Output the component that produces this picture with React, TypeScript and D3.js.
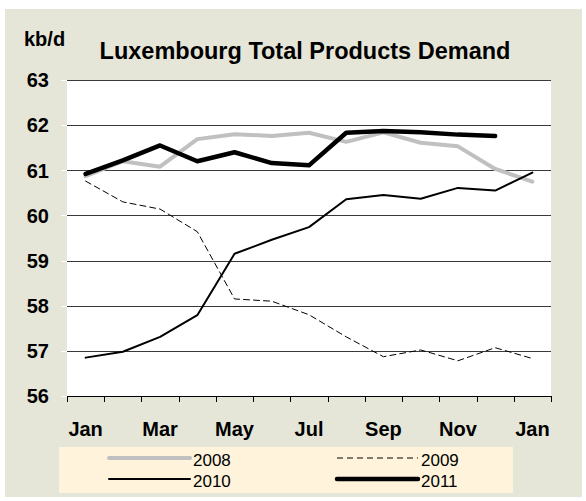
import React from 'react';
import * as d3 from 'd3';

// month labels along the x axis (13 points, Jan to Jan)
const months = ['Jan', 'Feb', 'Mar', 'Apr', 'May', 'Jun', 'Jul', 'Aug', 'Sep', 'Oct', 'Nov', 'Dec', 'Jan'];
const yTicks = [56, 57, 58, 59, 60, 61, 62, 63];

// kb/d values
const s2008 = [60.87, 61.2, 61.08, 61.69, 61.8, 61.76, 61.83, 61.63, 61.84, 61.61, 61.53, 61.03, 60.75];
const s2009 = [60.76, 60.3, 60.14, 59.64, 58.15, 58.1, 57.8, 57.31, 56.87, 57.02, 56.78, 57.07, 56.83];
const s2010 = [56.85, 56.98, 57.31, 57.79, 59.15, 59.46, 59.74, 60.36, 60.45, 60.37, 60.61, 60.55, 60.95];
const s2011 = [60.92, 61.22, 61.55, 61.2, 61.4, 61.16, 61.11, 61.83, 61.87, 61.84, 61.79, 61.76];

const FONT = '"Liberation Sans", Arial, sans-serif';

const series = [
  { name: '2008', values: s2008, stroke: '#C0C0C0', width: 4, dash: undefined },
  { name: '2009', values: s2009, stroke: '#000', width: 1, dash: '6,4' },
  { name: '2010', values: s2010, stroke: '#000', width: 2, dash: undefined },
  { name: '2011', values: s2011, stroke: '#000', width: 4.5, dash: undefined },
];

const App = () => {
  const width = 586;
  const height = 501;
  const plot = { left: 67, right: 551, top: 80, bottom: 396 };

  const x = d3.scaleBand<number>()
    .domain(months.map((_, i) => i))
    .range([plot.left, plot.right]);
  const bw = x.bandwidth();
  const cx = (i: number) => (x(i) as number) + bw / 2;

  const y = d3.scaleLinear().domain([56, 63]).range([plot.bottom, plot.top]);

  const line = d3.line<number>()
    .x((_, i) => cx(i))
    .y(d => y(d));

  // tick marks sit on band boundaries
  const xTickPos = months.map((_, i) => x(i) as number).concat(plot.right);

  // legend layout
  const legend = [
    { s: series[0], lx: 109, ly: 458 },
    { s: series[1], lx: 337, ly: 458 },
    { s: series[2], lx: 109, ly: 479 },
    { s: series[3], lx: 337, ly: 479 },
  ];

  return (
    <svg width={width} height={height} style={{ position: 'absolute', left: 0, top: 0, display: 'block' }}>
      {/* chart background */}
      <rect x={5} y={9} width={577} height={488} fill="#E6E6D8" />
      {/* plot area */}
      <rect x={plot.left} y={plot.top} width={plot.right - plot.left} height={plot.bottom - plot.top} fill="#fff" />

      {/* gridlines */}
      {yTicks.map(t => (
        <g key={t}>
          <line x1={plot.left} x2={plot.right} y1={Math.round(y(t)) + 0.5} y2={Math.round(y(t)) + 0.5}
            stroke={t === 56 ? '#000' : '#3a3a3a'} strokeWidth={1} />
          <line x1={61} x2={plot.left} y1={Math.round(y(t)) + 0.5} y2={Math.round(y(t)) + 0.5} stroke="#fff" strokeWidth={1} />
          <text x={49} y={y(t) + 7.3} textAnchor="end" fontFamily={FONT} fontWeight="bold" fontSize={20} fill="#000">{t}</text>
        </g>
      ))}

      {/* x ticks */}
      {xTickPos.map((p, i) => (
        <line key={i} x1={Math.round(p) + 0.5} x2={Math.round(p) + 0.5} y1={plot.bottom} y2={plot.bottom + 6} stroke="#000" strokeWidth={1} />
      ))}
      {months.map((m, i) => (i % 2 === 0 ? (
        <text key={i} x={cx(i)} y={436} textAnchor="middle" fontFamily={FONT} fontWeight="bold" fontSize={20} fill="#000">{m}</text>
      ) : null))}

      {/* series lines */}
      {series.map(s => (
        <path key={s.name} d={line(s.values) || ''} fill="none" stroke={s.stroke} strokeWidth={s.width}
          strokeDasharray={s.dash} strokeLinejoin="round" strokeLinecap="round" />
      ))}

      {/* titles */}
      <text x={24} y={46} fontFamily={FONT} fontWeight="bold" fontSize={20} fill="#000">kb/d</text>
      <text x={305} y={59} textAnchor="middle" fontFamily={FONT} fontWeight="bold" fontSize={23.5} fill="#000">
        Luxembourg Total Products Demand
      </text>

      {/* legend */}
      <rect x={59} y={447} width={454} height={46} fill="#FFF4DB" />
      {legend.map(({ s, lx, ly }) => (
        <g key={s.name}>
          <line x1={lx} x2={lx + 81} y1={ly} y2={ly} stroke={s.stroke} strokeWidth={s.width}
            strokeDasharray={s.dash} strokeLinecap={s.dash ? 'butt' : 'round'} />
          <text x={lx + 84} y={ly + 7.5} fontFamily={FONT} fontSize={17} fill="#000">{s.name}</text>
        </g>
      ))}
    </svg>
  );
};

export default App;
